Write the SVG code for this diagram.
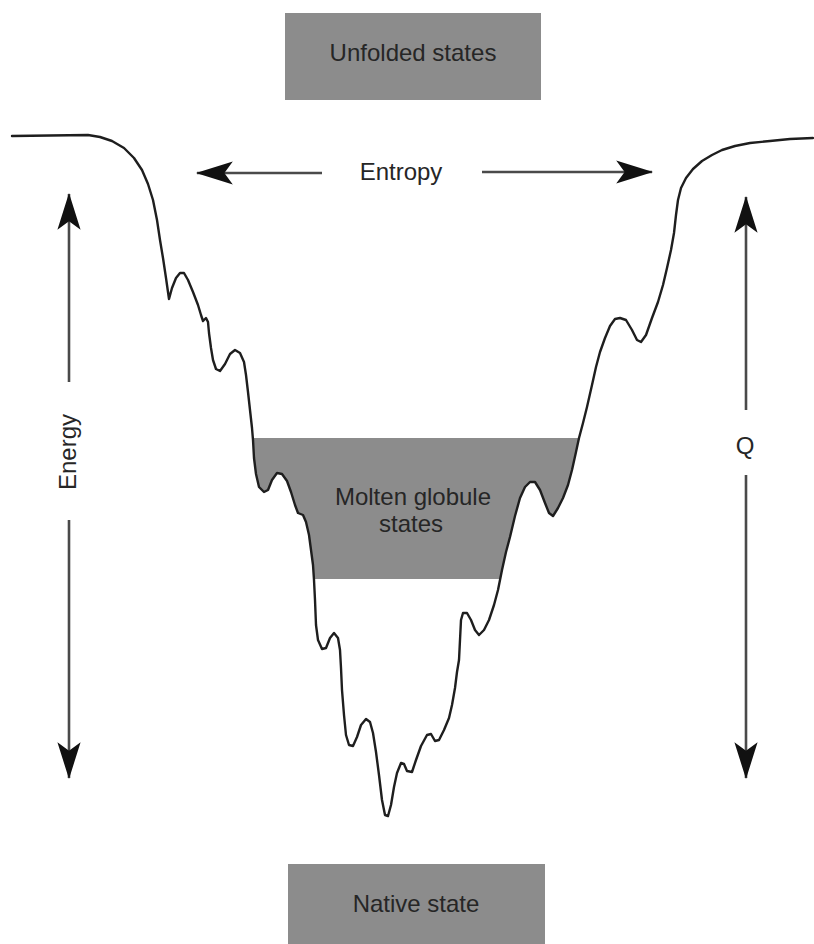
<svg xmlns="http://www.w3.org/2000/svg" width="814" height="944" viewBox="0 0 814 944">
<style>
.box{fill:#8c8c8c}
.lbl{font-family:"Liberation Sans",Arial,sans-serif;font-size:24px;fill:#262626;text-anchor:middle}
.arr{stroke:#4a4a4a;stroke-width:2.6;fill:none}
.curve{stroke:#1e1e1e;stroke-width:2.4;fill:none;stroke-linejoin:round;stroke-linecap:round}
</style>
<defs>
<marker id="head" markerUnits="userSpaceOnUse" markerWidth="40" markerHeight="30" viewBox="-36 -12 38 24" refX="0" refY="0" orient="auto-start-reverse">
<path d="M1,0 L-34,-11 L-26,0 L-34,11 Z" fill="#111"/>
</marker>
</defs>
<rect width="814" height="944" fill="#ffffff"/>
<g id="unfolded-states">
<rect class="box" x="285" y="13" width="256" height="87"/>
<text class="lbl" x="413" y="61">Unfolded states</text>
</g>
<g id="native-state">
<rect class="box" x="288" y="864" width="257" height="80"/>
<text class="lbl" x="416" y="912">Native state</text>
</g>
<g id="molten-globule">
<polygon class="box" points="253,438 579,438 576,452 572,470 568,485 563,498 558,508 553,516 549,513 545,503 540,490 535,482 530,482 525,487 520,498 515,516 510,537 506,552 502,570 500,579 314,579 313,565 311,550 309,535 306,522 303,515 298,513 295,505 291,492 287,481 282,474 277,473 272,480 268,490 264,492 259,487 256,474 254,458"/>
<text class="lbl" x="413" y="505">Molten globule</text>
<text class="lbl" x="411" y="532">states</text>
</g>
<g id="landscape">
<polyline class="curve" points="12,136 88,135 100,137 112,141 124,148 134,158 142,170 148,184 153,200 157,220 160,240 163,258 166,278 168,292 169,299 172,288 176,278 180,273 184,273 188,280 193,292 198,305 201,315 203,321 206,318 208,322 209,333 211,348 213,360 216,369 220,371 225,364 230,354 235,350 240,353 244,362 246,375 248,392 250,410 252,428 253,440 254,458 256,474 259,487 264,492 268,490 272,480 277,473 282,474 287,481 291,492 295,505 298,513 303,515 306,522 309,535 311,550 313,565 314,580 315,600 316,625 318,640 322,649 326,648 330,638 334,633 338,638 340,650 341,668 342,690 344,715 346,735 349,745 353,746 357,737 361,725 366,719 370,722 373,733 376,752 379,775 382,800 385,815 388,816 391,805 394,787 397,773 401,763 404,764 407,771 412,772 416,760 421,746 427,735 431,734 435,741 439,740 444,730 449,718 452,705 455,688 457,672 459,660 460,640 461,620 463,613 467,613 471,620 475,630 479,635 484,630 489,620 494,605 498,590 502,570 506,552 510,537 515,516 520,498 525,487 530,482 535,482 540,490 545,503 549,513 553,516 558,508 563,498 568,485 572,470 576,452 579,438 583,423 587,407 592,385 596,367 600,352 605,338 610,326 615,319 620,318 626,320 632,330 637,340 641,342 646,335 652,318 658,302 663,285 667,268 671,250 674,233 676,215 678,200 681,188 686,178 693,169 702,161 712,155 722,150 735,146 750,143 770,141 790,139 813,138"/>
</g>
<g id="entropy-label">
<text class="lbl" x="401" y="180">Entropy</text>
</g>
<g id="energy-label">
<text class="lbl" transform="translate(76,452) rotate(-90)">Energy</text>
</g>
<g id="q-label">
<text class="lbl" x="745" y="454">Q</text>
</g>
<g id="connectors">
<line class="arr" x1="322" y1="173" x2="197" y2="173" marker-end="url(#head)"/>
<line class="arr" x1="482" y1="172" x2="652" y2="172" marker-end="url(#head)"/>
<line class="arr" x1="69" y1="382" x2="69" y2="194" marker-end="url(#head)"/>
<line class="arr" x1="69" y1="520" x2="69" y2="778" marker-end="url(#head)"/>
<line class="arr" x1="746" y1="410" x2="746" y2="197" marker-end="url(#head)"/>
<line class="arr" x1="746" y1="475" x2="746" y2="778" marker-end="url(#head)"/>
</g>
</svg>
